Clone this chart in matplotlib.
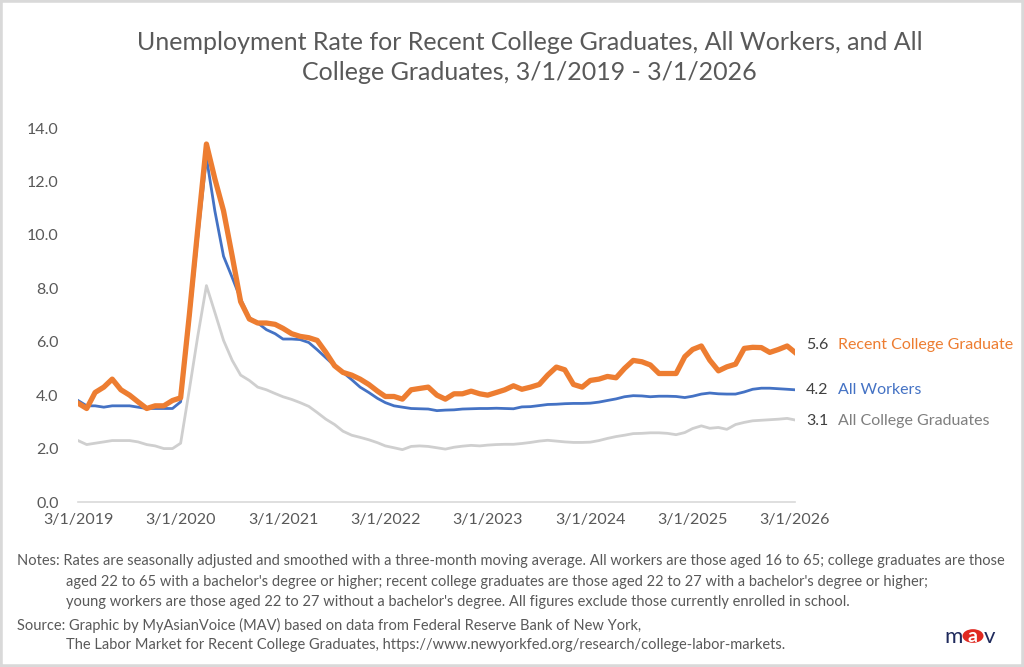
import pandas as pd
import matplotlib
matplotlib.use('Agg')
import matplotlib.pyplot as plt
from matplotlib.patches import Rectangle, Circle

# monthly data, 3/1/2019 - 3/1/2026 (three-month moving averages)
dates = pd.date_range('2019-03-01', '2026-03-01', freq='MS')

recent_grads = [
    3.7, 3.5, 4.1, 4.3, 4.6, 4.2, 4.0, 3.75, 3.5, 3.6,
    3.6, 3.8, 3.9, 7.0, 10.2, 13.4, 12.1, 10.9, 9.2, 7.5,
    6.85, 6.7, 6.7, 6.65, 6.5, 6.3, 6.2, 6.15, 6.05, 5.6,
    5.1, 4.85, 4.75, 4.6, 4.4, 4.15, 3.95, 3.95, 3.85, 4.2,
    4.25, 4.3, 4.0, 3.85, 4.05, 4.05, 4.15, 4.05, 4.0, 4.1,
    4.2, 4.35, 4.22, 4.3, 4.4, 4.75, 5.05, 4.95, 4.4, 4.3,
    4.55, 4.6, 4.7, 4.65, 5.0, 5.3, 5.25, 5.13, 4.81, 4.81,
    4.81, 5.44, 5.71, 5.84, 5.31, 4.91, 5.06, 5.16, 5.75, 5.79,
    5.78, 5.6, 5.71, 5.84, 5.6,
]
all_workers = [
    3.8, 3.6, 3.6, 3.55, 3.6, 3.6, 3.6, 3.55, 3.5, 3.5,
    3.5, 3.5, 3.75, 6.8, 9.9, 12.9, 10.9, 9.2, 8.4, 7.6,
    6.9, 6.7, 6.45, 6.3, 6.1, 6.1, 6.08, 5.97, 5.7, 5.4,
    5.1, 4.85, 4.58, 4.3, 4.1, 3.88, 3.72, 3.6, 3.55, 3.5,
    3.49, 3.48, 3.42, 3.44, 3.45, 3.48, 3.49, 3.5, 3.5, 3.51,
    3.5, 3.49, 3.56, 3.57, 3.61, 3.65, 3.66, 3.68, 3.69, 3.69,
    3.7, 3.74, 3.8, 3.86, 3.94, 3.98, 3.97, 3.94, 3.96, 3.96,
    3.95, 3.91, 3.96, 4.04, 4.08, 4.05, 4.04, 4.04, 4.12, 4.22,
    4.26, 4.26, 4.24, 4.22, 4.2,
]
all_grads = [
    2.3, 2.15, 2.2, 2.25, 2.3, 2.3, 2.3, 2.25, 2.15, 2.1,
    2.0, 2.0, 2.2, 4.2, 6.2, 8.1, 7.1, 6.05, 5.3, 4.75,
    4.55, 4.3, 4.2, 4.06, 3.94, 3.84, 3.72, 3.58, 3.35, 3.1,
    2.9, 2.65, 2.5, 2.42, 2.33, 2.22, 2.1, 2.03, 1.96, 2.08,
    2.1, 2.08, 2.03, 1.98, 2.05, 2.09, 2.12, 2.1, 2.13, 2.15,
    2.16, 2.16, 2.19, 2.23, 2.28, 2.31, 2.28, 2.25, 2.23, 2.23,
    2.24, 2.3, 2.38, 2.45, 2.5, 2.56, 2.57, 2.59, 2.59, 2.57,
    2.52, 2.6, 2.75, 2.85, 2.76, 2.79, 2.72, 2.9, 2.98, 3.04,
    3.06, 3.08, 3.1, 3.13, 3.07,
]

series = [
    ('All College Graduates', all_grads, '#CFCFCF', 2.0, '#7F7F7F', -1),
    ('All Workers', all_workers, '#4472C4', 2.0, '#4472C4', 0),
    ('Recent College Graduate', recent_grads, '#ED7D31', 3.8, '#ED7D31', 5),
]

plt.rcParams['font.family'] = ['Lato', 'DejaVu Sans']
grey_txt = '#595959'

fig = plt.figure(figsize=(10.24, 6.67), dpi=100)
ax = fig.add_axes([78 / 1024, 1 - 502 / 667, 717 / 1024, 374 / 667])

for name, vals, col, lw, txtcol, dy in series:
    ax.plot(dates, vals, color=col, lw=lw, solid_joinstyle='round')
    ax.annotate(f'{vals[-1]:.1f}', xy=(dates[-1], vals[-1]), xytext=(8, dy),
                textcoords='offset points', va='center', ha='left',
                fontsize=11.5, color='#404040')
    ax.annotate(name, xy=(dates[-1], vals[-1]), xytext=(31, dy),
                textcoords='offset points', va='center', ha='left',
                fontsize=11.5, color=txtcol)

ax.set_ylim(0, 14)
ax.set_yticks(range(0, 15, 2))
ax.set_yticklabels([f'{v:.1f}' for v in range(0, 15, 2)])
ax.set_xlim(dates[0], dates[-1])
year_ticks = [d for d in dates if d.month == 3]
ax.set_xticks(year_ticks)
ax.set_xticklabels([f'{d.month}/{d.day}/{d.year}' for d in year_ticks])
ax.tick_params(length=0, labelsize=11.5, labelcolor=grey_txt)
ax.tick_params(axis='x', pad=8)
ax.tick_params(axis='y', pad=14)
for s in ['top', 'right', 'left']:
    ax.spines[s].set_visible(False)
ax.spines['bottom'].set_color('#D9D9D9')
ax.spines['bottom'].set_linewidth(1.2)

fig.text(0.517, 1 - 42 / 667, 'Unemployment Rate for Recent College Graduates, All Workers, and All',
         ha='center', va='center', fontsize=18, color=grey_txt)
fig.text(0.517, 1 - 73 / 667, 'College Graduates, 3/1/2019 - 3/1/2026',
         ha='center', va='center', fontsize=18, color=grey_txt)

notes = [
    (17, 561, 'Notes: Rates are seasonally adjusted and smoothed with a three-month moving average. '
              'All workers are those aged 16 to 65; college graduates are those'),
    (66, 582, "aged 22 to 65 with a bachelor's degree or higher; recent college graduates are those "
              "aged 22 to 27 with a bachelor's degree or higher;"),
    (66, 602, "young workers are those aged 22 to 27 without a bachelor's degree. "
              "All figures exclude those currently enrolled in school."),
    (17, 625, 'Source: Graphic by MyAsianVoice (MAV) based on data from Federal Reserve Bank of New York,'),
    (66, 645, 'The Labor Market for Recent College Graduates, '
              'https://www.newyorkfed.org/research/college-labor-markets.'),
]
for x, y, t in notes:
    fig.text(x / 1024, 1 - y / 667, t, ha='left', va='center', fontsize=10.5,
             color=grey_txt)

# mav logo
fig.text(954 / 1024, 1 - 637 / 667, 'm', ha='center', va='center', fontsize=16,
         color='#1F2A5C')
fig.patches.append(Circle((973 / 1024, 1 - 636 / 667), 10.5 / 1024, transform=fig.transFigure,
                          facecolor='#E02A22', edgecolor='none'))
fig.text(973 / 1024, 1 - 637 / 667, 'a', ha='center', va='center', fontsize=14,
         color='white', fontweight='bold')
fig.text(990 / 1024, 1 - 637 / 667, 'v', ha='center', va='center', fontsize=16,
         color='#1F2A5C')

# light grey frame
fig.patches.append(Rectangle((0, 0), 1, 1, transform=fig.transFigure, fill=False,
                             edgecolor='#D9D9D9', lw=4))

fig.savefig('out.png', dpi=100, facecolor='white')
